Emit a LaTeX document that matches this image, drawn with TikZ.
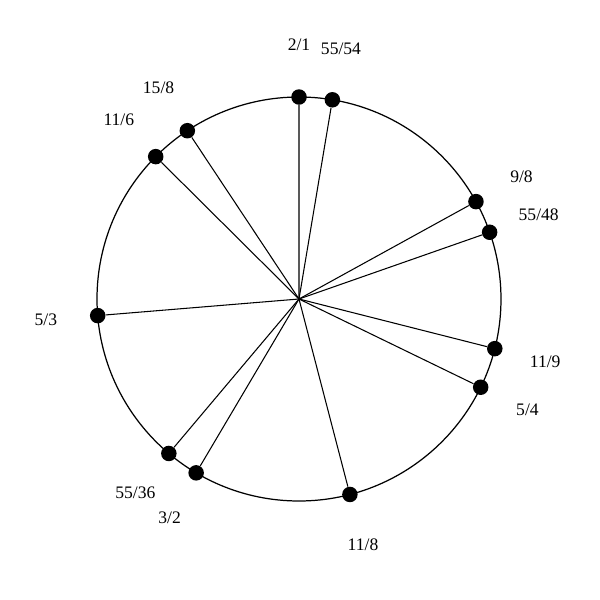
\documentclass[tikz,border=0pt]{standalone}
\usepackage{fontspec}
\setmainfont{Liberation Serif}
\usepackage{tikz,color}

\tikzset{
  pitchdot/.style={circle,fill=black,inner sep=0pt,minimum size=0.31cm},
  pitchlabel/.style={font=\fontsize{10}{12}\selectfont,inner sep=0pt}
}

\begin{document}
\begin{tikzpicture}
            \useasboundingbox (-5.98,-6.02) rectangle (6.02,5.98);
            \coordinate (centre) at (0,0);
            \draw[line width=0.7pt] (centre) circle (4.04);
            \foreach \num/\den/\name in {2/1/a, 55/54/b, 9/8/c, 55/48/d, 11/9/e, 5/4/f,
                                         11/8/g, 3/2/h, 55/36/i, 5/3/j, 11/6/k, 15/8/l}
            {
              \pgfmathsetmacro\ang{90-360*ln(\num/\den)/ln(2)}
              \node[pitchdot] (\name) at (\ang:4.04) {};
              \draw[line width=0.6pt] (centre) -- (\name);
              \node[pitchlabel] (lab\name) at (\ang:5.08) {\num/\den};
            }
        \end{tikzpicture}
\end{document}
